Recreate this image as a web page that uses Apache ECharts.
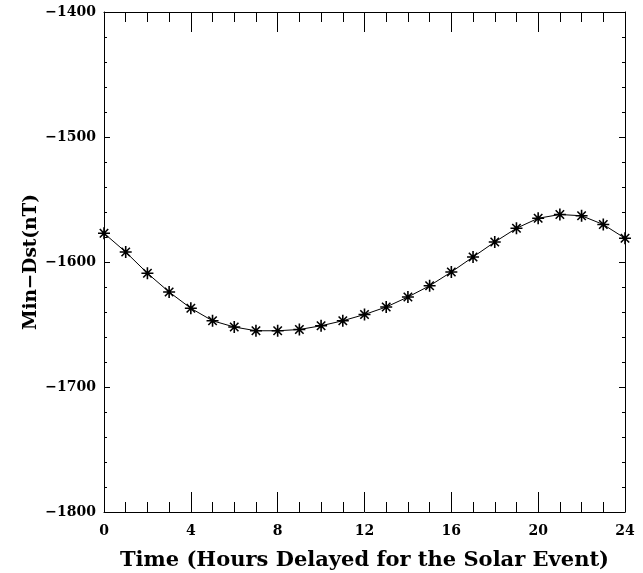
<!DOCTYPE html>
<html>
<head>
<meta charset="utf-8">
<script src="https://cdn.jsdelivr.net/npm/echarts@6/dist/echarts.min.js"></script>
<style>html,body{margin:0;padding:0;background:#fff;}#c{width:643px;height:573px;}</style>
</head>
<body>
<div id="c"></div>
<script>
const hours = [0,1,2,3,4,5,6,7,8,9,10,11,12,13,14,15,16,17,18,19,20,21,22,23,24];
const minDst = [-1577,-1592,-1609,-1624,-1637,-1647,-1652,-1655,-1655,-1654,-1651,-1647,-1642,-1636,-1628,-1619,-1608,-1596,-1584,-1573,-1565,-1562,-1563,-1570,-1581];
const xTitle = 'Time (Hours Delayed for the Solar Event)';
const yTitle = 'Min\u2212Dst(nT)';

const FONT = 'DejaVu Serif';
const chart = echarts.init(document.getElementById('c'), null, {renderer:'canvas'});
const axLine = {show:true, onZero:false, lineStyle:{color:'#000', width:1}};
const fmtY = v => String(v).replace('-', '\u2212');
const option = {
  animation:false,
  backgroundColor:'#fff',
  grid:{left:104, right:18, top:12, bottom:61, containLabel:false, outerBoundsMode:'none'},
  xAxis:[
    {type:'value', min:0, max:24, interval:4, position:'bottom',
     name:xTitle, nameLocation:'middle', nameGap:38,
     nameTextStyle:{fontFamily:FONT, fontSize:21, fontWeight:'bold', color:'#000'},
     axisLine:axLine, axisTick:{show:true, inside:true, length:20, lineStyle:{color:'#000'}},
     minorTick:{show:true, splitNumber:4, length:10, lineStyle:{color:'#000'}},
     axisLabel:{fontFamily:FONT, fontSize:14, fontWeight:'bold', color:'#000', margin:12}, splitLine:{show:false}},
    {type:'value', min:0, max:24, interval:4, position:'top',
     axisLine:axLine, axisTick:{show:true, inside:true, length:20, lineStyle:{color:'#000'}},
     minorTick:{show:true, splitNumber:4, length:10, lineStyle:{color:'#000'}},
     axisLabel:{show:false}, splitLine:{show:false}}
  ],
  yAxis:[
    {type:'value', min:-1800, max:-1400, interval:100, position:'left',
     name:yTitle, nameLocation:'middle', nameGap:63, nameRotate:90, nameMoveOverlap:false,
     nameTextStyle:{fontFamily:FONT, fontSize:18.5, fontWeight:'bold', color:'#000'},
     axisLine:axLine, axisTick:{show:true, inside:true, length:6, lineStyle:{color:'#000'}},
     minorTick:{show:true, splitNumber:5, length:3, lineStyle:{color:'#000'}},
     axisLabel:{fontFamily:FONT, fontSize:14, fontWeight:'bold', color:'#000', margin:8, formatter:fmtY}, splitLine:{show:false}},
    {type:'value', min:-1800, max:-1400, interval:100, position:'right',
     axisLine:axLine, axisTick:{show:true, inside:true, length:6, lineStyle:{color:'#000'}},
     minorTick:{show:true, splitNumber:5, length:3, lineStyle:{color:'#000'}},
     axisLabel:{show:false}, splitLine:{show:false}}
  ],
  series:[{
    type:'line',
    data:hours.map((h,i)=>[h, minDst[i]]),
    symbol:'path://M0,-10L0,10M-10,0L10,0M-7,-7L7,7M-7,7L7,-7',
    symbolSize:12,
    showAllSymbol:true,
    lineStyle:{color:'#000', width:1},
    itemStyle:{color:'#000', borderColor:'#000', borderWidth:1.6},
    z:3
  }]
};
chart.setOption(option);
</script>
</body>
</html>
